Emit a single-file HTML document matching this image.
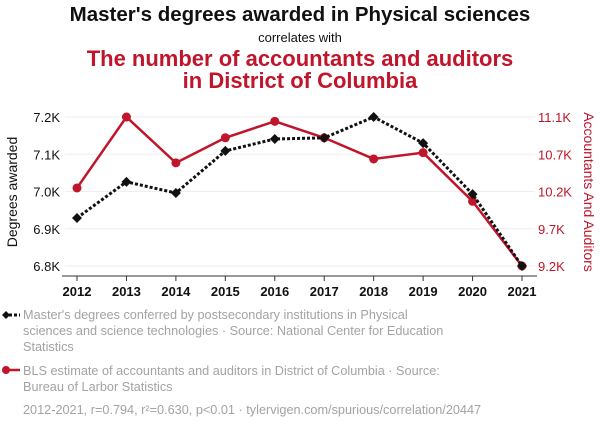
<!DOCTYPE html>
<html><head><meta charset="utf-8"><style>
body{margin:0;width:600px;height:430px;background:#fff;font-family:"Liberation Sans",sans-serif;overflow:hidden;position:relative}
.t{position:absolute;left:0;width:600px;text-align:center}
.lg{position:absolute;left:23px;color:#a3a3a3;font-size:12.7px;line-height:16px}
</style></head><body>
<div class="t" style="top:3px;font-size:20.5px;font-weight:bold;color:#111">Master's degrees awarded in Physical sciences</div>
<div class="t" style="top:30px;font-size:13px;color:#111">correlates with</div>
<div class="t" style="top:48px;font-size:22px;font-weight:bold;color:#c0152b;line-height:22px">The number of accountants and auditors<br>in District of Columbia</div>
<svg width="600" height="430" style="position:absolute;left:0;top:0" id="chart"></svg>
<div class="lg" style="top:307px">Master's degrees conferred by postsecondary institutions in Physical<br>sciences and science technologies · Source: National Center for Education<br>Statistics</div>
<div class="lg" style="top:363px">BLS estimate of accountants and auditors in District of Columbia · Source:<br>Bureau of Larbor Statistics</div>
<div class="lg" style="top:402px">2012-2021, r=0.794, r²=0.630, p&lt;0.01 · tylervigen.com/spurious/correlation/20447</div>
<script>
const years=[2012,2013,2014,2015,2016,2017,2018,2019,2020,2021];
const degrees=[6929,7026,6996,7109,7141,7144,7200,7130,6993,6800];
const accountants=[10220,11125,10540,10860,11070,10860,10590,10670,10050,9225];
const leftTicks=[6800,6900,7000,7100,7200];
const leftLabels=["6.8K","6.9K","7.0K","7.1K","7.2K"];
const rightTicks=[9225,9700,10175,10650,11125];
const rightLabels=["9.2K","9.7K","10.2K","10.7K","11.1K"];
const svg=document.getElementById('chart');
const NS='http://www.w3.org/2000/svg';
const X=y=>77+(y-2012)*(522-77)/9;
const YL=v=>266-(v-6800)*(266-117)/400;
const YR=v=>266-(v-9225)*(266-117)/1900;
function mk(t,a){const e=document.createElementNS(NS,t);for(const k in a)e.setAttribute(k,a[k]);svg.appendChild(e);return e;}
leftTicks.forEach((v,i)=>{
 const g=mk('line',{x1:65,x2:535,y1:YL(v),y2:YL(v),stroke:'#eee','stroke-width':1});
 
 
 const t=mk('text',{x:60,y:YL(v)+5,'text-anchor':'end','font-size':13,fill:'#111'});t.textContent=leftLabels[i];
 
 
});
rightTicks.forEach((v,i)=>{
 const t=mk('text',{x:538,y:YR(v)+5,'font-size':13,fill:'#c0152b'});t.textContent=rightLabels[i];
 
 
});
mk('line',{x1:62,x2:537,y1:276,y2:276,stroke:'#333'});
years.forEach(y=>{
 mk('line',{x1:X(y),x2:X(y),y1:276,y2:281,stroke:'#333'});
 const t=mk('text',{x:X(y),y:296,'text-anchor':'middle','font-size':13,'font-weight':'bold',fill:'#111'});t.textContent=y;
 
 
});
let a=mk('text',{transform:'translate(17,192) rotate(-90)','text-anchor':'middle','font-size':14,fill:'#111'});a.textContent='Degrees awarded';


a=mk('text',{transform:'translate(584,192) rotate(90)','text-anchor':'middle','font-size':14,fill:'#c0152b'});a.textContent='Accountants And Auditors';


let p=mk('polyline',{points:years.map((y,i)=>X(y)+','+YR(accountants[i])).join(' '),fill:'none',stroke:'#c0152b','stroke-width':2.5});


years.forEach((y,i)=>{const c=mk('circle',{cx:X(y),cy:YR(accountants[i]),r:4.5,fill:'#c0152b'});
 
 });
p=mk('polyline',{points:years.map((y,i)=>X(y)+','+YL(degrees[i])).join(' '),fill:'none',stroke:'#111','stroke-width':3,'stroke-dasharray':'3,2'});


years.forEach((y,i)=>{const cx=X(y),cy=YL(degrees[i]);const d=mk('polygon',{points:`${cx},${cy-5} ${cx+5},${cy} ${cx},${cy+5} ${cx-5},${cy}`,fill:'#111'});
 
 });
mk('line',{x1:4,x2:20,y1:315,y2:315,stroke:'#111','stroke-width':3,'stroke-dasharray':'3,2'});
mk('polygon',{points:'6,311 10,315 6,319 2,315',fill:'#111'});
mk('line',{x1:4,x2:20,y1:370,y2:370,stroke:'#c0152b','stroke-width':2.5});
mk('circle',{cx:6,cy:370,r:4,fill:'#c0152b'});
</script>
</body></html>
